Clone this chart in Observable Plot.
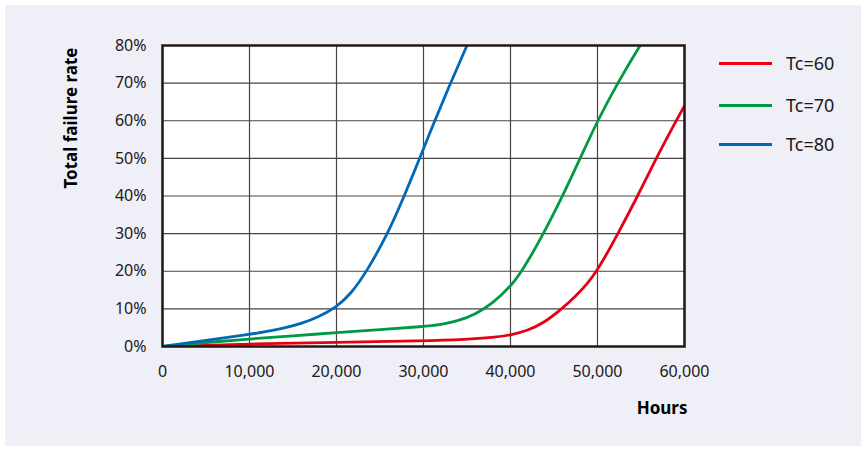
<!DOCTYPE html>
<html>
<head>
<meta charset="utf-8">
<script src="https://cdn.jsdelivr.net/npm/d3@7"></script>
<script src="https://cdn.jsdelivr.net/npm/@observablehq/plot@0.6"></script>
<style>
  html, body { margin: 0; padding: 0; background: #ffffff; }
  #wrap { position: relative; width: 865px; height: 451px; overflow: hidden; font-family: "Noto Sans", sans-serif; color: #231815; }
  #bg { position: absolute; left: 5px; top: 5px; width: 856px; height: 441px; background: #eeeff7; }
  #chart { position: absolute; left: 0; top: 0; }
  #legend { position: absolute; left: 719px; top: 0; }
  .item { position: absolute; left: 0; width: 140px; height: 24px; }
  .swatch { position: absolute; left: 0; top: 11px; width: 53px; height: 3px; }
  .lab { position: absolute; left: 67px; top: 0; font-size: 18px; line-height: 24px; white-space: nowrap; }
</style>
</head>
<body>
<div id="wrap"><div id="bg"></div><div id="chart"></div><div id="legend"></div></div>
<script>
// Hours in thousands, failure rate in %
const series = ["Tc=60", "Tc=70", "Tc=80"];
const colors = ["#e60012", "#009944", "#0068b7"];

const tc60Hours = [0, 10, 20, 30, 35, 38, 40, 42, 43.8, 45.9, 47.5, 48.8, 49.8, 51, 52.2, 54.5, 56.6, 58.9, 60];
const tc60Rate  = [0, 0.7, 1.1, 1.5, 1.9, 2.4, 3.0, 4.3, 6.2, 10, 13.4, 16.6, 19.7, 24.3, 29.4, 39.4, 49.4, 59.4, 64];

const tc70Hours = [0, 5, 10, 15, 20, 25, 30, 32, 34, 36, 38, 40, 41.3, 43.4, 46, 48, 50, 52.3, 54.9];
const tc70Rate  = [0, 1.1, 2.0, 2.8, 3.7, 4.5, 5.3, 5.8, 6.8, 8.6, 11.6, 15.9, 20, 28.2, 40, 50, 60, 70, 80];

const tc80Hours = [0, 5, 10, 12, 14, 16, 18, 20, 21.6, 23.5, 25.9, 27.7, 30, 31.2, 33.1, 35];
const tc80Rate  = [0, 1.6, 3.2, 4.0, 4.9, 6.1, 7.9, 10.5, 13.8, 20, 30, 39.5, 52.5, 59.5, 70, 80];

const xTicks = [0, 10000, 20000, 30000, 40000, 50000, 60000];
const yTicks = [0, 10, 20, 30, 40, 50, 60, 70, 80];
const yTitle = "Total failure rate";
const xTitle = "Hours";

const hoursArr = [tc60Hours, tc70Hours, tc80Hours];
const rateArr = [tc60Rate, tc70Rate, tc80Rate];
const data = series.flatMap((s, i) => hoursArr[i].map((h, j) => ({series: s, hours: h * 1000, rate: rateArr[i][j]})));

const ink = "#231815";
const chart = Plot.plot({
  width: 865,
  height: 451,
  marginLeft: 162,
  marginRight: 181,
  marginTop: 45,
  marginBottom: 105,
  style: {background: "transparent", fontFamily: "'Noto Sans', sans-serif", fontSize: "16px", color: ink},
  x: {domain: [0, 60000], ticks: xTicks, tickFormat: d => d3.format(",")(d), tickSize: 0, tickPadding: 19, label: null},
  y: {domain: [0, 80], ticks: yTicks, tickFormat: d => d + "%", tickSize: 0, tickPadding: 16, label: null},
  color: {domain: series, range: colors},
  marks: [
    Plot.frame({fill: "#ffffff", stroke: null}),
    Plot.gridX(xTicks, {stroke: "#4a4243", strokeOpacity: 1, strokeWidth: 1.2}),
    Plot.gridY(yTicks, {stroke: "#4a4243", strokeOpacity: 1, strokeWidth: 1.2}),
    Plot.line(data, {x: "hours", y: "rate", z: "series", stroke: "series", strokeWidth: 2.8, curve: "basis", clip: true}),
    Plot.frame({stroke: ink, strokeWidth: 2.5}),
    Plot.axisX(xTicks, {tickFormat: d => d3.format(",")(d), tickSize: 0, tickPadding: 19, fill: ink, fontSize: 16}),
    Plot.axisY(yTicks, {tickFormat: d => d + "%", tickSize: 0, tickPadding: 16, fill: ink, fontSize: 16}),
    Plot.text([yTitle], {frameAnchor: "top-left", dx: -98, dy: 2, rotate: -90, textAnchor: "end", text: d => d, fontWeight: "bold", fontSize: 17, fill: "#000"}),
    Plot.text([xTitle], {frameAnchor: "bottom-right", dx: 3, dy: 67, textAnchor: "end", text: d => d, fontWeight: "bold", fontSize: 17, fill: "#000"})
  ]
});
document.getElementById("chart").appendChild(chart);

const legendYs = [63, 105, 144];
const legend = document.getElementById("legend");
series.forEach((s, i) => {
  const item = document.createElement("div");
  item.className = "item";
  item.style.top = (legendYs[i] - 12) + "px";
  const sw = document.createElement("div");
  sw.className = "swatch";
  sw.style.background = colors[i];
  const lab = document.createElement("div");
  lab.className = "lab";
  lab.textContent = s;
  item.appendChild(sw);
  item.appendChild(lab);
  legend.appendChild(item);
});
</script>
</body>
</html>
